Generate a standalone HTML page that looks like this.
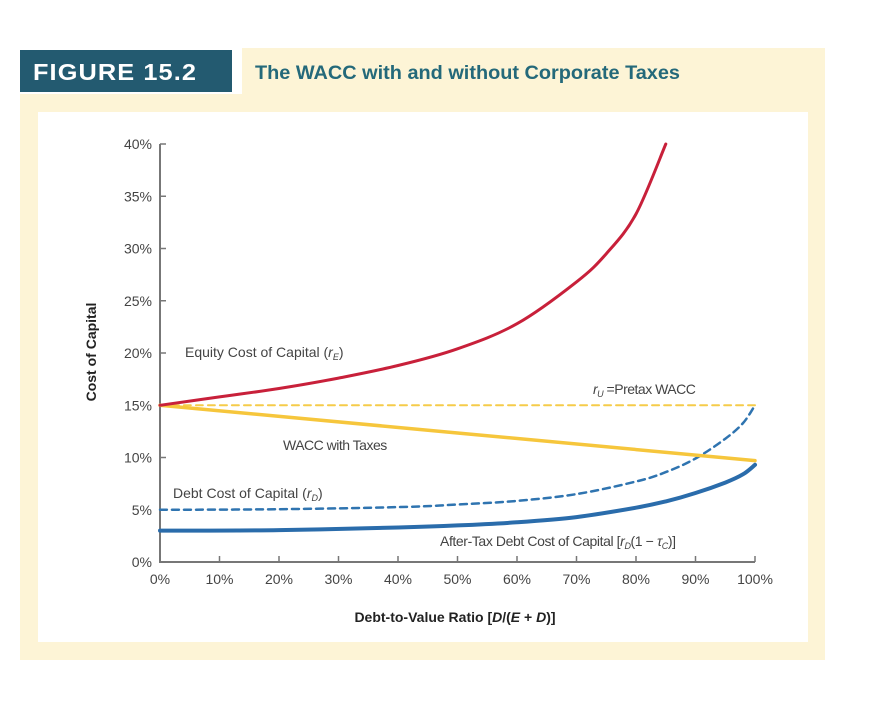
<!DOCTYPE html>
<html><head><meta charset="utf-8"><style>
body{margin:0;background:#fff;width:870px;height:704px;overflow:hidden;font-family:"Liberation Sans",sans-serif}
</style></head><body>
<svg width="870" height="704" xmlns="http://www.w3.org/2000/svg">
<rect x="20" y="48" width="805" height="612" fill="#fdf4d6"/>
<rect x="20" y="48" width="222" height="46" fill="#fff"/>
<rect x="20" y="50" width="212" height="42" fill="#235a70"/>
<text x="33" y="80" fill="#fff" font-size="23" font-weight="bold" letter-spacing="1" textLength="164" lengthAdjust="spacingAndGlyphs">FIGURE 15.2</text>
<text x="255" y="79" fill="#24697a" font-size="19" font-weight="bold" textLength="425" lengthAdjust="spacingAndGlyphs">The WACC with and without Corporate Taxes</text>
<rect x="38" y="112" width="770" height="530" fill="#fff"/>
<g id="axes"></g>
<g id="marks"></g>
<text x="185" y="357" font-size="14" fill="#444">Equity Cost of Capital (<tspan font-style="italic">r</tspan><tspan font-size="9" dy="3" font-style="italic">E</tspan><tspan dy="-3">)</tspan></text>
<text x="283" y="450" font-size="14" fill="#444" letter-spacing="-0.5">WACC with Taxes</text>
<text x="173" y="498" font-size="14" fill="#444">Debt Cost of Capital (<tspan font-style="italic">r</tspan><tspan font-size="9" dy="3" font-style="italic">D</tspan><tspan dy="-3">)</tspan></text>
<text x="593" y="394" font-size="14" fill="#444" letter-spacing="-0.5"><tspan font-style="italic">r</tspan><tspan font-size="9" dy="3" font-style="italic">U</tspan><tspan dy="-3"> =Pretax WACC</tspan></text>
<text x="440" y="546" font-size="14" fill="#444" letter-spacing="-0.4">After-Tax Debt Cost of Capital [<tspan font-style="italic">r</tspan><tspan font-size="9" dy="3" font-style="italic">D</tspan><tspan dy="-3">(1 − </tspan><tspan font-style="italic">τ</tspan><tspan font-size="9" dy="3" font-style="italic">C</tspan><tspan dy="-3">)]</tspan></text>
<text x="455" y="622" font-size="14" font-weight="bold" fill="#222" text-anchor="middle">Debt-to-Value Ratio  [<tspan font-style="italic">D</tspan>/(<tspan font-style="italic">E</tspan> + <tspan font-style="italic">D</tspan>)]</text>
<text transform="translate(96,352) rotate(-90)" font-size="14" font-weight="bold" fill="#222" text-anchor="middle">Cost of Capital</text>
</svg>
<script>
const xTicks=[0,10,20,30,40,50,60,70,80,90,100];
const yTicks=[0,5,10,15,20,25,30,35,40];
const equityX=[0,10,20,30,40,50,60,70,75,80,85];
const equityY=[15,15.8,16.6,17.6,18.8,20.4,22.8,26.8,29.5,33.3,40];
const debtX=[0,20,40,50,60,70,80,85,90,95,98,100];
const debtY=[5,5.05,5.25,5.5,5.85,6.5,7.7,8.6,9.9,11.8,13.3,15];
const afterTaxX=[0,20,40,50,60,70,80,85,90,95,98,100];
const afterTaxY=[3,3.05,3.3,3.5,3.8,4.3,5.2,5.8,6.6,7.6,8.4,9.3];
const waccX=[0,100];
const waccY=[15,9.7];
const pretaxX=[0,100];
const pretaxY=[15,15];
const X=v=>160+v*5.95, Y=v=>562-v*10.45;
const NS="http://www.w3.org/2000/svg";
const ax=document.getElementById('axes'), mk=document.getElementById('marks');
function el(t,a,p){const e=document.createElementNS(NS,t);for(const k in a)e.setAttribute(k,a[k]);p.appendChild(e);return e;}
let e=el('path',{d:`M${X(0)} ${Y(40)} V${Y(0)} H${X(100)}`,stroke:'#777',fill:'none','stroke-width':2},ax);


yTicks.forEach(v=>{
 let t=el('line',{x1:X(0),x2:X(0)+6,y1:Y(v),y2:Y(v),stroke:'#777','stroke-width':1.5},ax);
 
 
 let l=el('text',{x:X(0)-8,y:Y(v)+5,'font-size':14,fill:'#444','text-anchor':'end'},ax);l.textContent=v+'%';
 
 
});
xTicks.forEach(v=>{
 let t=el('line',{x1:X(v),x2:X(v),y1:Y(0),y2:Y(0)-6,stroke:'#777','stroke-width':1.5},ax);
 
 
 let l=el('text',{x:X(v),y:Y(0)+22,'font-size':14,fill:'#444','text-anchor':'middle'},ax);l.textContent=v+'%';
 
 
});
function smooth(pts){
 let d='M'+pts[0][0].toFixed(1)+' '+pts[0][1].toFixed(1);
 for(let i=0;i<pts.length-1;i++){
  const p0=pts[i-1]||pts[i],p1=pts[i],p2=pts[i+1],p3=pts[i+2]||p2;
  const c1=[p1[0]+(p2[0]-p0[0])/6,p1[1]+(p2[1]-p0[1])/6];
  const c2=[p2[0]-(p3[0]-p1[0])/6,p2[1]-(p3[1]-p1[1])/6];
  d+=` C${c1[0].toFixed(1)} ${c1[1].toFixed(1)} ${c2[0].toFixed(1)} ${c2[1].toFixed(1)} ${p2[0].toFixed(1)} ${p2[1].toFixed(1)}`;
 }
 return d;
}
function line(xs,ys,color,dash,name,w){
 const d=smooth(xs.map((x,i)=>[X(x),Y(ys[i])]));
 let p=el('path',{d:d,stroke:color,fill:'none','stroke-width':w||3,'stroke-linejoin':'round','stroke-linecap':'round'},mk);
 if(dash)p.setAttribute('stroke-dasharray',dash);
 
 
}
line(pretaxX,pretaxY,'#f5cc4a','7 5','pretax-wacc-line',2);
line(debtX,debtY,'#2f74b0','7 5','debt-cost-line',2.5);
line(afterTaxX,afterTaxY,'#2a6cab',null,'after-tax-debt-line',4);
line(waccX,waccY,'#f6c63c',null,'wacc-taxes-line',3.5);
line(equityX,equityY,'#c8203a',null,'equity-cost-line',3);
</script>
</body></html>
